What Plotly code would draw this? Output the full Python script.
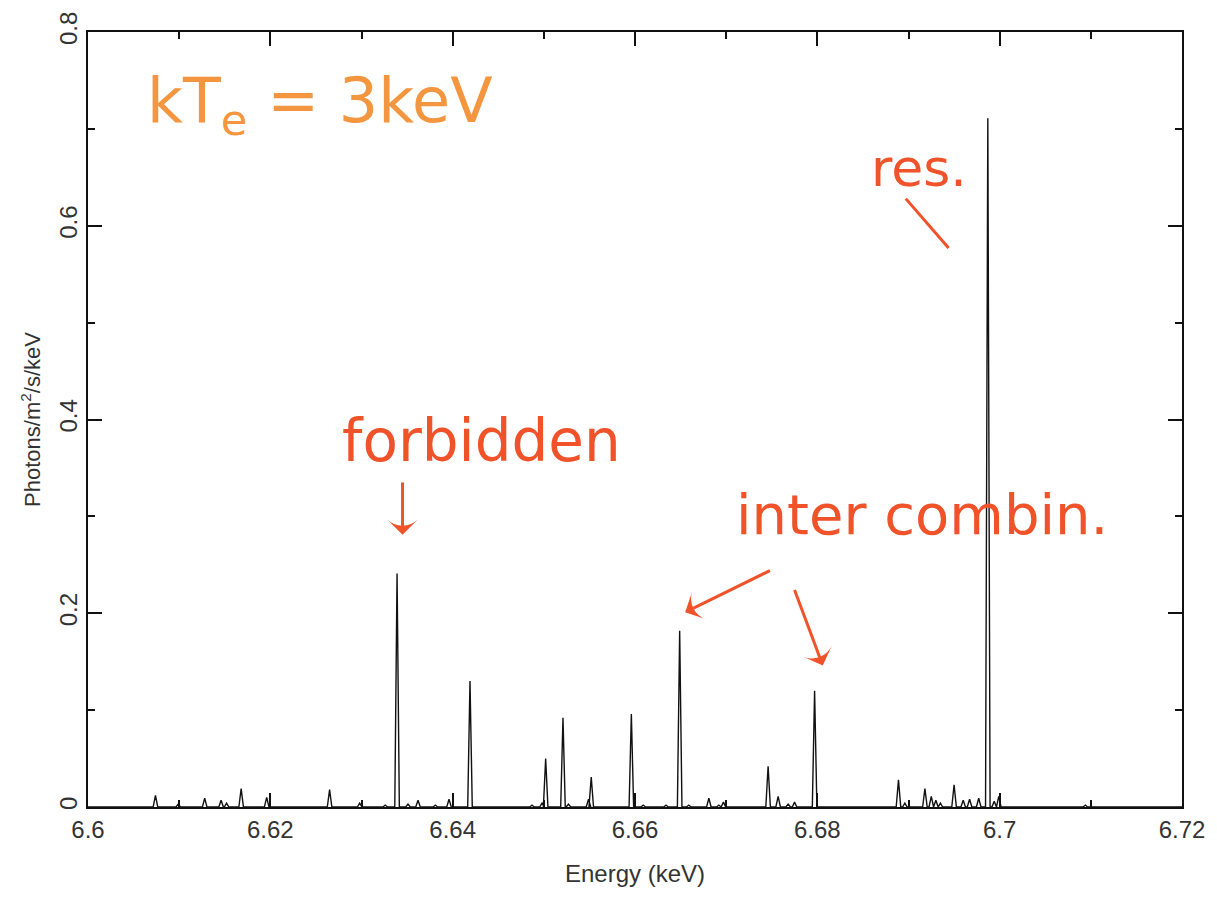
import plotly.graph_objects as go

# Fe XXV He-like triplet region: line centres (keV) and peak flux (photons/m^2/s/keV)
line_energy = [
    6.6074, 6.6099, 6.6128, 6.6146, 6.6152, 6.6168, 6.6196, 6.6265, 6.6298, 6.6326,
    6.6339, 6.6351, 6.6362, 6.6381, 6.6396, 6.6419,
    6.6487, 6.6498, 6.6502, 6.6521, 6.6527, 6.6549, 6.6552, 6.6596, 6.6609, 6.6634,
    6.6649, 6.6659, 6.6681, 6.6692, 6.6697, 6.6746, 6.6757, 6.6768, 6.6775, 6.6797,
    6.6889, 6.6896, 6.6918, 6.6925, 6.6930, 6.6935, 6.6950, 6.6960, 6.6967, 6.6977,
    6.6987, 6.6994, 6.6999, 6.7094,
]
line_flux = [
    0.012, 0.003, 0.009, 0.007, 0.004, 0.019, 0.010, 0.018, 0.004, 0.002,
    0.241, 0.003, 0.007, 0.002, 0.008, 0.130,
    0.002, 0.004, 0.050, 0.092, 0.003, 0.008, 0.031, 0.096, 0.002, 0.002,
    0.182, 0.002, 0.009, 0.002, 0.005, 0.042, 0.011, 0.003, 0.005, 0.120,
    0.028, 0.004, 0.019, 0.011, 0.007, 0.004, 0.023, 0.007, 0.008, 0.009,
    0.711, 0.006, 0.011, 0.002,
]

x_ticks = [6.6, 6.62, 6.64, 6.66, 6.68, 6.7, 6.72]
x_labels = ["6.6", "6.62", "6.64", "6.66", "6.68", "6.7", "6.72"]
y_ticks = [0, 0.2, 0.4, 0.6, 0.8]
y_labels = ["0", "0.2", "0.4", "0.6", "0.8"]

E_MIN, E_MAX = 6.6, 6.72
HALF_WIDTH = 0.00025  # instrumental half-width of each narrow line

# Build the spectrum as a baseline with a narrow spike for every line
pairs = sorted(zip(line_energy, line_flux))
xs, ys = [E_MIN], [0.0]
for e, f in pairs:
    xs += [e - HALF_WIDTH, e, e + HALF_WIDTH]
    ys += [0.0, f, 0.0]
xs.append(E_MAX)
ys.append(0.0)

fig = go.Figure()
fig.add_trace(go.Scatter(
    x=xs, y=ys, mode="lines",
    line=dict(color="#111111", width=1.4),
    hoverinfo="skip", showlegend=False,
))

pen = "#F0522A"
pen_orange = "#F4963F"
hand = dict(family="DejaVu Sans")

# Pen arrows: (tail x, tail y) -> (head x, head y)
arrows = [
    ((6.6345, 0.335), (6.6345, 0.281)),
    ((6.6748, 0.244), (6.6655, 0.201)),
    ((6.6775, 0.224), (6.6806, 0.146)),
]
for (tx, ty), (hx, hy) in arrows:
    fig.add_trace(go.Scatter(
        x=[tx, hx], y=[ty, hy], mode="lines+markers",
        line=dict(color=pen, width=3),
        marker=dict(symbol=["circle", "arrow-wide"], size=[0, 22], color=pen,
                    opacity=1, line=dict(width=0), angleref="previous"),
        hoverinfo="skip", showlegend=False,
    ))

annotations = [
    dict(x=6.6255, y=0.725, text="kT<sub>e</sub> = 3keV", showarrow=False,
         font=dict(size=62, color=pen_orange, **hand)),
    dict(x=6.6912, y=0.66, text="res.", showarrow=False,
         font=dict(size=52, color=pen, **hand)),
    dict(x=6.6432, y=0.378, text="forbidden", showarrow=False,
         font=dict(size=58, color=pen, **hand)),
    dict(x=6.6915, y=0.302, text="inter combin.", showarrow=False,
         font=dict(size=56, color=pen, **hand)),
]

fig.add_shape(type="line", x0=6.6897, y0=0.628, x1=6.6944, y1=0.577,
              xref="x", yref="y", line=dict(color=pen, width=3))

axis_font = dict(family="Liberation Sans", size=24, color="#333333")

fig.update_layout(
    width=1217, height=898,
    margin=dict(l=88, r=27, t=25, b=91),
    paper_bgcolor="white", plot_bgcolor="white",
    annotations=annotations,
    xaxis=dict(
        range=[E_MIN, E_MAX], tickvals=x_ticks, ticktext=x_labels,
        ticks="inside", ticklen=14, tickwidth=1.5, tickcolor="#111111",
        minor=dict(ticks="inside", dtick=0.01, ticklen=7, tickwidth=1.5, tickcolor="#111111"),
        showline=True, linecolor="#111111", linewidth=1.6, mirror="ticks",
        showgrid=False, zeroline=False, tickfont=axis_font,
        title=dict(text="Energy (keV)", font=dict(family="Liberation Sans", size=24, color="#333333"),
                   standoff=24),
    ),
    yaxis=dict(
        range=[0, 0.8], tickvals=y_ticks, ticktext=y_labels, tickangle=-90,
        ticks="inside", ticklen=14, tickwidth=1.5, tickcolor="#111111",
        minor=dict(ticks="inside", dtick=0.1, ticklen=7, tickwidth=1.5, tickcolor="#111111"),
        showline=True, linecolor="#111111", linewidth=1.6, mirror="ticks",
        showgrid=False, zeroline=False, tickfont=axis_font,
        title=dict(text="Photons/m<sup>2</sup>/s/keV",
                   font=dict(family="Liberation Sans", size=22, color="#333333"),
                   standoff=8),
    ),
)

fig.write_html("out.html")
